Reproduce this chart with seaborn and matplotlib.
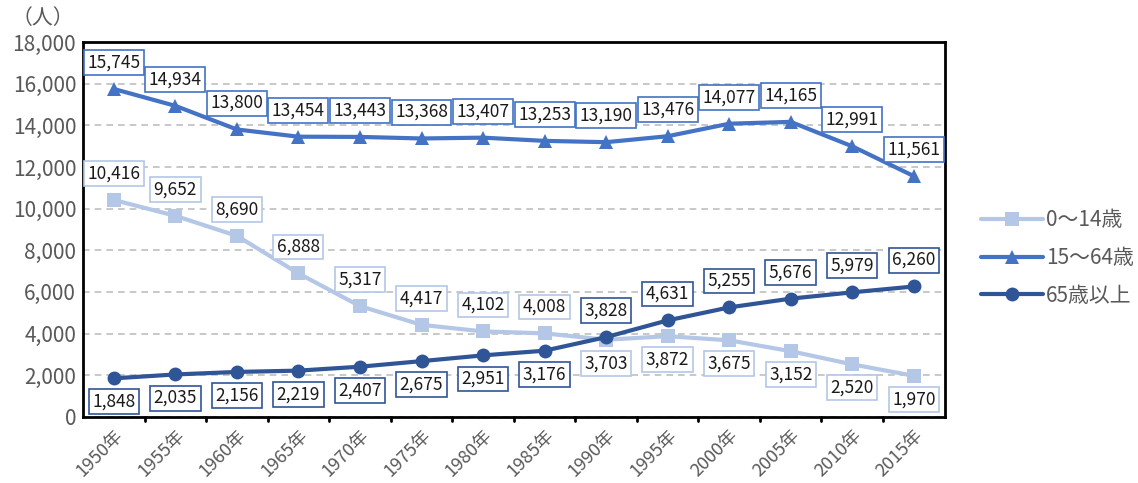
import matplotlib.pyplot as plt
import seaborn as sns
import pandas as pd

years = ['1950年', '1955年', '1960年', '1965年', '1970年', '1975年', '1980年',
         '1985年', '1990年', '1995年', '2000年', '2005年', '2010年', '2015年']
age_0_14 = [10416, 9652, 8690, 6888, 5317, 4417, 4102, 4008, 3703, 3872, 3675, 3152, 2520, 1970]
age_15_64 = [15745, 14934, 13800, 13454, 13443, 13368, 13407, 13253, 13190, 13476, 14077, 14165, 12991, 11561]
age_65 = [1848, 2035, 2156, 2219, 2407, 2675, 2951, 3176, 3828, 4631, 5255, 5676, 5979, 6260]

series_names = ['0～14歳', '15～64歳', '65歳以上']
colors = ['#B4C7E7', '#4472C4', '#2F5597']
markers = ['s', '^', 'o']

sns.set_style('white')
plt.rcParams['font.family'] = ['Noto Sans CJK JP', 'DejaVu Sans']

fig = plt.figure(figsize=(11.38, 4.83), dpi=100)
ax = fig.add_axes([0.073, 0.137, 0.757, 0.776])

x = list(range(len(years)))
all_vals = [age_0_14, age_15_64, age_65]
for name, vals, c, m in zip(series_names, all_vals, colors, markers):
    df = pd.DataFrame({'x': x, 'v': vals})
    sns.lineplot(data=df, x='x', y='v', ax=ax, color=c, linewidth=3,
                 marker=m, markersize=10, markeredgewidth=0, label=name)

# data labels
for i in x:
    pairs = [(age_0_14[i], age_0_14[i] > age_65[i], colors[0]),
             (age_15_64[i], True, colors[1]),
             (age_65[i], age_65[i] > age_0_14[i], colors[2])]
    for v, above, c in pairs:
        ax.annotate(f'{v:,}', (i, v), xytext=(0, 19 if above else -17),
                    textcoords='offset points', ha='center', va='center',
                    fontsize=12.5, color='#1a1a1a',
                    bbox=dict(boxstyle='square,pad=0.2', fc='white', ec=c, lw=1.2))

ax.set_xlim(-0.5, len(years) - 0.5)
ax.set_ylim(0, 18000)
ax.set_yticks(range(0, 18001, 2000))
ax.set_yticklabels([f'{t:,}' for t in range(0, 18001, 2000)], fontsize=15, color='#595959')
ax.set_xticks(x)
ax.set_xticklabels(years, rotation=45, ha='right', rotation_mode='anchor',
                   fontsize=13, color='#595959')
ax.tick_params(axis='x', length=0, pad=7)
ax.tick_params(axis='y', length=0, pad=5)
# boundary ticks
for b in [i + 0.5 for i in x[:-1]]:
    ax.plot([b, b], [0, -200], color='black', lw=2, clip_on=False)
ax.set_xlabel('')
ax.set_ylabel('')
ax.yaxis.grid(True, linestyle=(0, (4, 3)), color='#BFBFBF', lw=1.2)
ax.set_axisbelow(True)
for s in ax.spines.values():
    s.set_visible(True)
    s.set_color('black')
    s.set_linewidth(2)

fig.text(0.01, 0.962, '（人）', fontsize=15, color='#595959', va='center')

leg = ax.legend(loc='center left', bbox_to_anchor=(1.02, 0.424), frameon=False,
                fontsize=15, handlelength=3, labelspacing=0.75, handletextpad=0.15)
for t in leg.get_texts():
    t.set_color('#595959')

fig.savefig('out.png', dpi=100)
